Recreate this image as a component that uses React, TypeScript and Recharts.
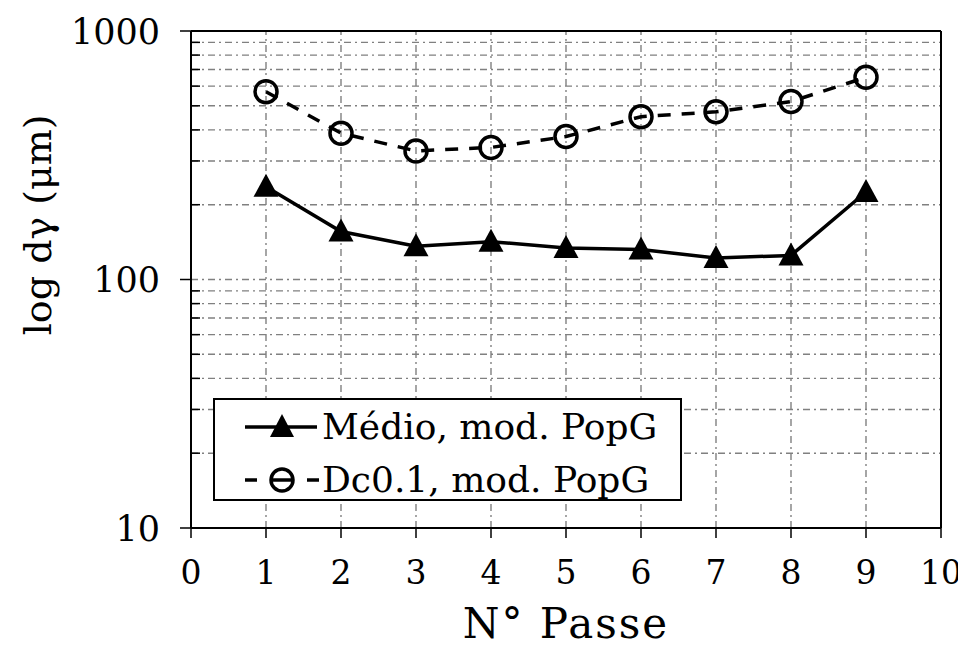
import React from 'react';
import { LineChart, Line, XAxis, YAxis, ReferenceLine } from 'recharts';

// N° passe vs grain size (log scale)
const passes = [1, 2, 3, 4, 5, 6, 7, 8, 9];
const medio = [236, 156, 136, 142, 134, 132, 122, 125, 225];
const dc01 = [570, 388, 329, 340, 376, 452, 473, 520, 651];

const xTicks = [0, 1, 2, 3, 4, 5, 6, 7, 8, 9, 10];
const yMajor = [10, 100, 1000];
const yTicks = [10, 20, 30, 40, 50, 60, 70, 80, 90, 100, 200, 300, 400, 500, 600, 700, 800, 900, 1000];
const gridX = [1, 2, 3, 4, 5, 6, 7, 8, 9];
const gridY = [20, 30, 40, 50, 60, 70, 80, 90, 100, 200, 300, 400, 500, 600, 700, 800, 900];

const FONT = '"DejaVu Serif", serif';
const GRID = '#808080';

const data = passes.map((p, i) => ({ passe: p, medio: medio[i], dc01: dc01[i] }));

const YTick = ({ x, y, payload }: any) => {
  const v = payload.value;
  if (yMajor.includes(v)) {
    return (
      <g>
        <line x1={x - 11} x2={x} y1={y} y2={y} stroke="#000" strokeWidth={1.5} />
        <text x={x - 31} y={y} dy="0.36em" textAnchor="end" fontFamily={FONT} fontSize={35} fill="#000">
          {v}
        </text>
      </g>
    );
  }
  return <line x1={x} x2={x + 9} y1={y} y2={y} stroke="#000" strokeWidth={1.5} />;
};

const XTick = ({ x, y, payload }: any) => (
  <g>
    <line x1={x} x2={x} y1={y} y2={y + 10} stroke="#000" strokeWidth={1.5} />
    <text x={x} y={y + 56} textAnchor="middle" fontFamily={FONT} fontSize={33} fill="#000">
      {payload.value}
    </text>
  </g>
);

const YLabel = ({ viewBox }: any) => {
  const cx = 30;
  const cy = viewBox.y + viewBox.height * 0.39;
  return (
    <text
      x={cx}
      y={cy}
      transform={`rotate(-90, ${cx}, ${cy})`}
      textAnchor="middle"
      dominantBaseline="central"
      fontFamily={FONT}
      fontSize={38}
      fill="#000"
    >
      log dγ (μm)
    </text>
  );
};

const Triangle = ({ cx, cy }: any) => (
  <path d={`M${cx},${cy - 13} L${cx + 12.5},${cy + 10} L${cx - 12.5},${cy + 10} Z`} fill="#000" />
);

const OpenCircle = ({ cx, cy }: any) => (
  <circle cx={cx} cy={cy} r={11} fill="none" stroke="#000" strokeWidth={3.5} />
);

const ChartLegend = () => (
  <div
    style={{
      position: 'absolute',
      left: 205,
      top: 390,
      width: 469,
      height: 103,
      border: '2px solid #000',
      boxSizing: 'border-box',
      background: '#fff',
      fontFamily: FONT,
      fontSize: 36,
    }}
  >
    <svg width={110} height={103} style={{ position: 'absolute', left: 0, top: 0 }}>
      <line x1={30} x2={102} y1={27} y2={27} stroke="#000" strokeWidth={3.5} />
      <path d="M67,14 L79,37 L55,37 Z" fill="#000" />
      <line x1={30} x2={42} y1={80} y2={80} stroke="#000" strokeWidth={3.5} />
      <line x1={56} x2={78} y1={80} y2={80} stroke="#000" strokeWidth={3.5} />
      <line x1={92} x2={104} y1={80} y2={80} stroke="#000" strokeWidth={3.5} />
      <circle cx={67} cy={80} r={11} fill="none" stroke="#000" strokeWidth={3.5} />
    </svg>
    <div style={{ position: 'absolute', left: 107, top: 27, transform: 'translateY(-50%)', whiteSpace: 'nowrap', lineHeight: 1 }}>
      Médio, mod. PopG
    </div>
    <div style={{ position: 'absolute', left: 107, top: 80, transform: 'translateY(-50%)', whiteSpace: 'nowrap', lineHeight: 1 }}>
      Dc0.1, mod. PopG
    </div>
  </div>
);

export default function App() {
  return (
    <div style={{ position: 'relative', width: 958, height: 640, background: '#fff' }}>
      <LineChart width={958} height={640} data={data} margin={{ top: 23, right: 25, left: 0, bottom: 0 }}>
        {gridX.map((v) => (
          <ReferenceLine key={`gx${v}`} x={v} stroke={GRID} strokeWidth={1.4} strokeDasharray="7 4 2 4" />
        ))}
        {gridY.map((v) => (
          <ReferenceLine key={`gy${v}`} y={v} stroke={GRID} strokeWidth={1.4} strokeDasharray="7 4 2 4" />
        ))}
        <ReferenceLine y={1000} stroke="#000" strokeWidth={2} />
        <ReferenceLine x={10} stroke="#000" strokeWidth={2} />
        <XAxis
          dataKey="passe"
          type="number"
          domain={[0, 10]}
          ticks={xTicks}
          interval={0}
          height={120}
          tickSize={0}
          tickMargin={0}
          tick={<XTick />}
          axisLine={{ stroke: '#000', strokeWidth: 2 }}
          tickLine={false}
          label={{
            value: 'N° Passe',
            position: 'insideBottom',
            offset: 10,
            fontFamily: FONT,
            fontSize: 42,
            fill: '#000',
            letterSpacing: 2,
          }}
        />
        <YAxis
          type="number"
          scale="log"
          domain={[10, 1000]}
          ticks={yTicks}
          interval={0}
          allowDataOverflow
          width={183}
          tickSize={0}
          tickMargin={0}
          tick={<YTick />}
          axisLine={{ stroke: '#000', strokeWidth: 2 }}
          tickLine={false}
          label={<YLabel />}
        />
        <Line
          dataKey="medio"
          stroke="#000"
          strokeWidth={3.5}
          dot={<Triangle />}
          activeDot={false}
          isAnimationActive={false}
        />
        <Line
          dataKey="dc01"
          stroke="#000"
          strokeWidth={3.5}
          strokeDasharray="13 11"
          dot={<OpenCircle />}
          activeDot={false}
          isAnimationActive={false}
        />
      </LineChart>
      <ChartLegend />
    </div>
  );
}
